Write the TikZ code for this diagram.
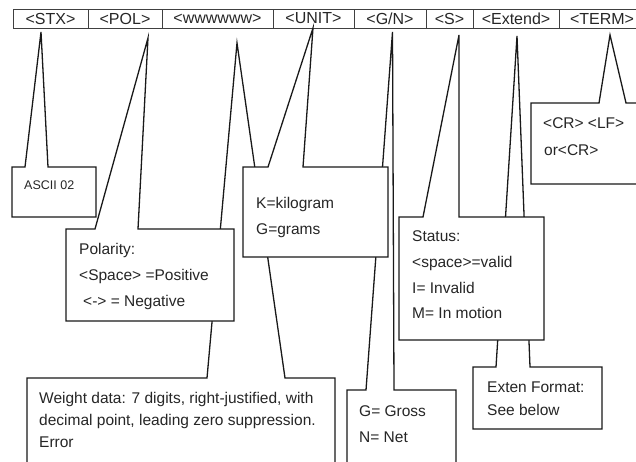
\documentclass[tikz,border=0pt]{standalone}
\usepackage{fontspec}
\setmainfont{Liberation Sans}
\begin{document}
\begin{tikzpicture}[x=1pt,y=-1pt,
  cell/.style={draw=black!75, line width=0.8pt, minimum height=19pt, inner sep=0pt, outer sep=0pt,
    anchor=north west, font=\fontsize{16}{18}\selectfont, text=black!85},
  callout/.style={draw=black!90, fill=white, line width=1.3pt},
  txt/.style={anchor=base west, inner sep=0pt, font=\fontsize{15.5}{18}\selectfont, text=black!85},
  smalltxt/.style={txt, font=\fontsize{12.5}{15}\selectfont}]
\useasboundingbox (0,0) rectangle (636,461);
\clip (0,0) rectangle (636,461);

% frame fields
\node[cell, minimum width=75pt]  (stx)  at (13,9)  {<STX>};
\node[cell, minimum width=74pt]  (pol)  at (88,9)  {<POL>};
\node[cell, minimum width=111pt] (www)  at (162,9) {<wwwwww>};
\node[cell, minimum width=81pt]  (unit) at (273,9) {<UNIT>};
\node[cell, minimum width=72pt]  (gn)   at (354,9) {<G/N>};
\node[cell, minimum width=47pt]  (st)   at (426,9) {<S>};
\node[cell, minimum width=86pt]  (ext)  at (473,9) {<Extend>};
\node[cell, minimum width=86pt]  (term) at (559,9) {<TERM>};

% callout tips
\coordinate (stx-tip)  at (41,32);
\coordinate (pol-tip)  at (148,38);
\coordinate (www-tip)  at (237,43);
\coordinate (unit-tip) at (313,28);
\coordinate (gn-tip)   at (392.5,32);
\coordinate (st-tip)   at (459,35);
\coordinate (ext-tip)  at (517,36);
\coordinate (term-tip) at (610,35);

% STX
\filldraw[callout] (12,167) -- (25,167) -- (stx-tip) -- (48,167) -- (96,167) -- (96,217) -- (12,217) -- cycle;
\node[smalltxt] (stx-t) at (24,189) {ASCII 02};

% weight data (drawn early: later boxes sit on its pointer)
\filldraw[callout] (27,378) -- (207,378) -- (www-tip) -- (285,378) -- (335,378) -- (335,475) -- (27,475) -- cycle;
\node[txt] (www-t1) at (39,403.5) {Weight data: 7 digits, right-justified, with};
\node[txt] (www-t2) at (39,425.5) {decimal point, leading zero suppression.};
\node[txt] (www-t3) at (39,447) {Error};

% polarity
\filldraw[callout] (66,229) -- (95,229) -- (pol-tip) -- (138,229) -- (234,229) -- (234,321) -- (66,321) -- cycle;
\node[txt] (pol-t1) at (79,254.5) {Polarity:};
\node[txt] (pol-t2) at (79,280.5) {<Space> =Positive};
\node[txt] (pol-t3) at (83,306.5) {<-> = Negative};

% gross / net
\filldraw[callout] (347,390) -- (366,390) -- (gn-tip) -- (394,390) -- (456,390) -- (456,475) -- (347,475) -- cycle;
\node[txt] (gn-t1) at (359,416.5) {G= Gross};
\node[txt] (gn-t2) at (359,442.5) {N= Net};

% unit
\filldraw[callout] (243,167) -- (268,167) -- (unit-tip) -- (303,167) -- (388,167) -- (388,257) -- (243,257) -- cycle;
\node[txt] (unit-t1) at (256,208.5) {K=kilogram};
\node[txt] (unit-t2) at (256,234.5) {G=grams};

% extended format
\filldraw[callout] (473,367) -- (496,367) -- (ext-tip) -- (530,367) -- (602,367) -- (602,429) -- (473,429) -- cycle;
\node[txt] (ext-t1) at (487,392.5) {Exten Format:};
\node[txt] (ext-t2) at (487,415.5) {See below};

% status
\filldraw[callout] (399,217) -- (423,217) -- (st-tip) -- (459,217) -- (544,217) -- (544,340) -- (399,340) -- cycle;
\node[txt] (st-t1) at (412,241.5) {Status:};
\node[txt] (st-t2) at (412,267.5) {<space>=valid};
\node[txt] (st-t3) at (412,293.5) {I= Invalid};
\node[txt] (st-t4) at (412,318.5) {M= In motion};

% terminator
\filldraw[callout] (531,103) -- (599,103) -- (term-tip) -- (626,103) -- (660,103) -- (660,184) -- (531,184) -- cycle;
\node[txt] (term-t1) at (543,128.5) {<CR> <LF>};
\node[txt] (term-t2) at (544,155.5) {or<CR>};
\end{tikzpicture}
\end{document}
